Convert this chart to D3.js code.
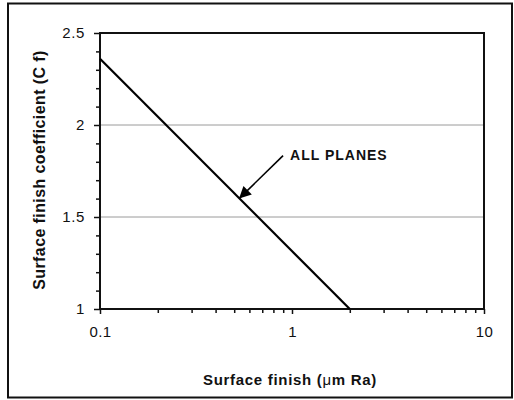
<!DOCTYPE html>
<html>
<head>
<meta charset="utf-8">
<script src="https://cdn.jsdelivr.net/npm/d3@7"></script>
<style>
html,body{margin:0;padding:0;background:#fff;}
svg{display:block;font-family:Arial,"Liberation Sans",sans-serif;}
</style>
</head>
<body>
<svg id="chart" width="514" height="400"></svg>
<script>
// ---- data ----
const finishX = [0.1, 2];          // surface finish (µm Ra)
const coeffY = [2.36, 1.0];         // surface finish coefficient
const xTickValues = [0.1, 1, 10];
const xTickLabels = ["0.1", "1", "10"];
const yTickValues = [1, 1.5, 2, 2.5];
const yTickLabels = ["1", "1.5", "2", "2.5"];
const gridValues = [1.5, 2];
const xTitleParts = ["Surface finish (", "\u03bc", "m Ra)"];
const yTitle = "Surface finish coefficient (C f)";
const annotationText = "ALL PLANES";
const annotationPoint = [0.53, 1.6]; // arrow points to the line here

const svg = d3.select("#chart");
const W = 514, H = 400;
const m = {left: 100, right: 30, top: 33, bottom: 91};
const x = d3.scaleLog().domain([0.1, 10]).range([m.left, W - m.right]);
const y = d3.scaleLinear().domain([1, 2.5]).range([H - m.bottom, m.top]);

// outer border
svg.append("rect").attr("x", 8).attr("y", 3.5).attr("width", 504).attr("height", 394)
  .attr("fill", "#fff").attr("stroke", "#111").attr("stroke-width", 2);

// gridlines
svg.append("g").selectAll("line").data(gridValues).join("line")
  .attr("x1", x.range()[0]).attr("x2", x.range()[1])
  .attr("y1", d => y(d)).attr("y2", d => y(d))
  .attr("stroke", "#9a9a9a").attr("stroke-width", 1);

// y minor ticks
const yMinor = d3.range(10, 26).map(v => v / 10).filter(v => yTickValues.indexOf(v) < 0);
const yAxisMinor = d3.axisLeft(y).tickValues(yMinor).tickSize(4).tickFormat("");
const gyMin = svg.append("g").attr("transform", `translate(${m.left},0)`).call(yAxisMinor);
gyMin.select(".domain").remove();
gyMin.selectAll("line").attr("stroke", "#111").attr("stroke-width", 1.5);

const yAxis = d3.axisLeft(y).tickValues(yTickValues).tickSize(6).tickPadding(9)
  .tickFormat((d, i) => yTickLabels[i]);
const gy = svg.append("g").attr("transform", `translate(${m.left},0)`).call(yAxis);
gy.select(".domain").remove();
gy.selectAll("line").attr("stroke", "#111").attr("stroke-width", 1.5);
gy.selectAll("text").attr("font-size", 15).attr("letter-spacing", 0.6)
  .attr("font-family", "Arial,'Liberation Sans',sans-serif").attr("fill", "#111");

// x minor ticks
const xMinor = [];
[0.1, 1].forEach(dec => { for (let k = 2; k <= 9; k++) xMinor.push(+(dec * k).toFixed(2)); });
const xAxisMinor = d3.axisBottom(x).tickValues(xMinor).tickSize(4).tickFormat("");
const gxMin = svg.append("g").attr("transform", `translate(0,${H - m.bottom})`).call(xAxisMinor);
gxMin.select(".domain").remove();
gxMin.selectAll("line").attr("stroke", "#111").attr("stroke-width", 1.5);

const xAxis = d3.axisBottom(x).tickValues(xTickValues).tickSize(5).tickPadding(12)
  .tickFormat((d, i) => xTickLabels[i]);
const gx = svg.append("g").attr("transform", `translate(0,${H - m.bottom})`).call(xAxis);
gx.select(".domain").remove();
gx.selectAll("line").attr("stroke", "#111").attr("stroke-width", 1.5);
gx.selectAll("text").attr("font-size", 15).attr("letter-spacing", 0.4)
  .attr("font-family", "Arial,'Liberation Sans',sans-serif").attr("fill", "#111");

// plot frame
svg.append("rect").attr("x", m.left).attr("y", m.top)
  .attr("width", W - m.left - m.right).attr("height", H - m.top - m.bottom)
  .attr("fill", "none").attr("stroke", "#111").attr("stroke-width", 2);

// data line
const line = d3.line().x(d => x(d[0])).y(d => y(d[1]));
svg.append("path").datum(finishX.map((v, i) => [v, coeffY[i]]))
  .attr("d", line).attr("fill", "none").attr("stroke", "#000").attr("stroke-width", 2.2);

// annotation arrow
svg.append("defs").append("marker").attr("id", "ah")
  .attr("viewBox", "0 0 10 10").attr("refX", 10).attr("refY", 5)
  .attr("markerWidth", 15).attr("markerHeight", 12).attr("markerUnits", "userSpaceOnUse")
  .attr("orient", "auto")
  .append("path").attr("d", "M0,0 L10,5 L0,10 Z").attr("fill", "#000");
const tip = [x(annotationPoint[0]), y(annotationPoint[1])];
svg.append("line").attr("x1", tip[0] + 44).attr("y1", tip[1] - 43)
  .attr("x2", tip[0]).attr("y2", tip[1])
  .attr("stroke", "#000").attr("stroke-width", 1.6).attr("marker-end", "url(#ah)");
svg.append("text").attr("x", tip[0] + 51).attr("y", tip[1] - 39)
  .attr("font-size", 14).attr("font-weight", "bold").attr("letter-spacing", 1)
  .attr("fill", "#111").text(annotationText);

// axis titles
const xt = svg.append("text").attr("x", 290).attr("y", 385).attr("text-anchor", "middle")
  .attr("font-size", 15).attr("font-weight", "bold").attr("letter-spacing", 0.7)
  .attr("fill", "#111");
xt.selectAll("tspan").data(xTitleParts).join("tspan")
  .attr("font-weight", (d, i) => i === 1 ? "normal" : "bold").text(d => d);
svg.append("text").attr("transform", "translate(45,170) rotate(-90)").attr("text-anchor", "middle")
  .attr("font-size", 16).attr("font-weight", "bold").attr("letter-spacing", 0.4)
  .attr("fill", "#111").text(yTitle);
</script>
</body>
</html>
